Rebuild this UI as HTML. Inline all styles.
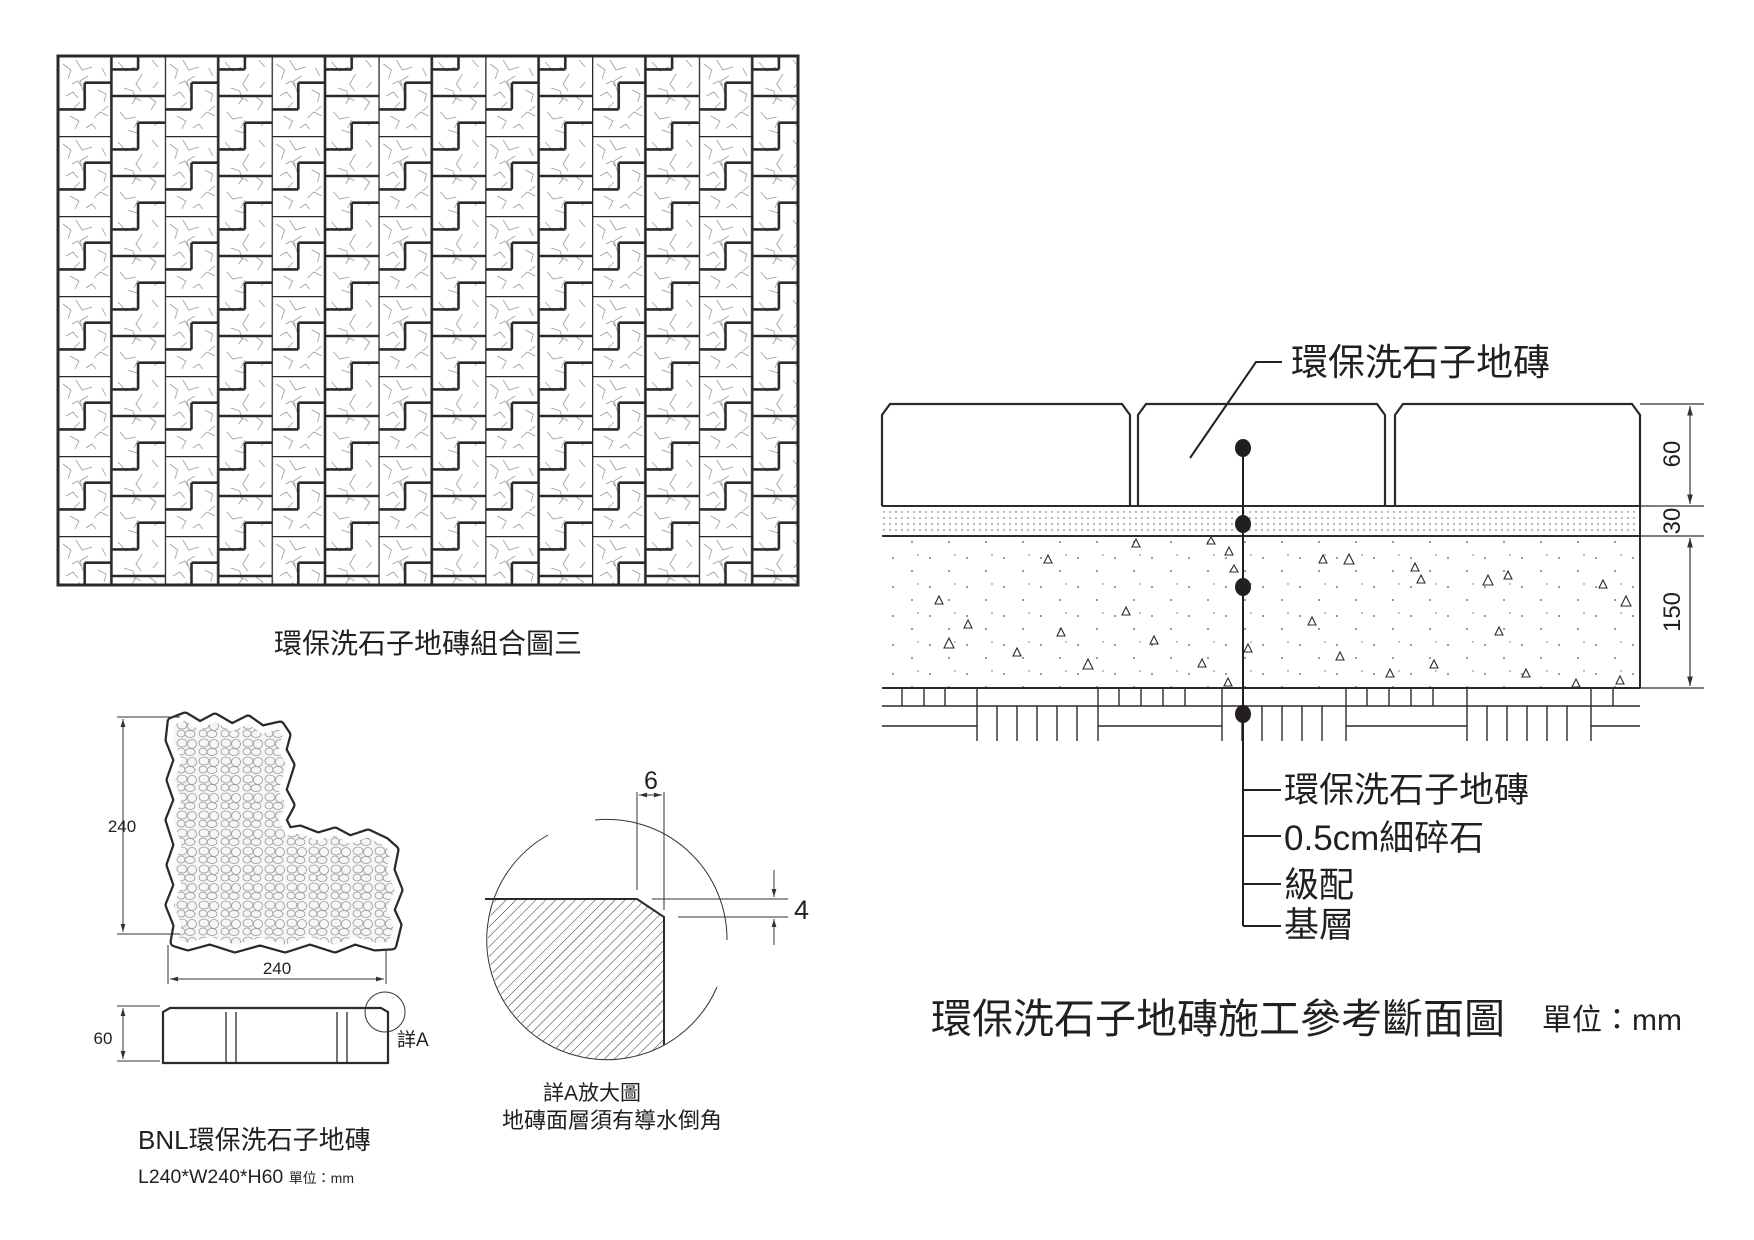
<!DOCTYPE html>
<html><head><meta charset="utf-8"><style>
html,body{margin:0;padding:0;background:#fff;}
svg{display:block;}
text{font-family:"Liberation Sans","Noto Sans CJK TC",sans-serif;fill:#231f20;}
</style></head><body>
<svg width="1754" height="1240" viewBox="0 0 1754 1240" xmlns="http://www.w3.org/2000/svg">
<defs>
<pattern id="pave" x="58" y="56" width="106.8" height="80" patternUnits="userSpaceOnUse">
  <rect width="106.8" height="80" fill="#fff"/>
  <g stroke="#999" stroke-width="0.8" fill="none">
    <path d="M5 8 l8 6 l-3 9 M18 4 l6 10 l10 -3 M30 20 l-8 5 l4 12 M40 34 l8 4 l-2 8 M8 40 l7 -4 l5 6 M12 60 l9 5 l-4 8 M36 62 l6 -6 l8 4 M44 12 l4 8 M60 6 l8 9 l9 -4 M84 18 l-6 10 l5 7 M94 4 l6 7 M66 32 l9 3 l2 9 M90 40 l8 6 l-5 8 M62 56 l6 7 l10 -2 M80 64 l-4 8 M96 70 l6 -5 M70 74 l9 3 M22 46 l-6 6"/>
    <path d="M14 28 l6 -3 l3 5 M50 50 l-6 5 M28 72 l6 -4 l4 5 M74 48 l4 -6 l5 3 M100 26 l-5 6"/>
  </g>
  <g stroke="#2a2a2a" stroke-width="2.6" fill="none">
    <path d="M0 0 V80 M0 0 H53.4 M26.7 26.7 H53.4 M26.7 26.7 V53.4 M0 53.4 H26.7"/>
    <path d="M53.4 0 V80 M53.4 40 H106.8 M80.1 66.7 H106.8 M80.1 66.7 V80 M80.1 0 V13.4 M53.4 13.4 H80.1"/>
  </g>
</pattern>
<pattern id="peb" width="22" height="18" patternUnits="userSpaceOnUse">
  <rect width="22" height="18" fill="#f6f6f6"/>
  <g stroke="#999" stroke-width="0.8" fill="none">
    <ellipse cx="6" cy="5" rx="5" ry="4"/><ellipse cx="16" cy="6" rx="4.5" ry="4.5"/>
    <ellipse cx="5" cy="13.5" rx="4" ry="3.5"/><ellipse cx="14" cy="14" rx="5" ry="3.5"/>
  </g>
</pattern>
<pattern id="sand" width="6" height="6" patternUnits="userSpaceOnUse">
  <circle cx="2" cy="2" r="0.7" fill="#555"/>
</pattern>
<pattern id="grav" width="37" height="29" patternUnits="userSpaceOnUse">
  <circle cx="5" cy="7" r="0.9" fill="#555"/><circle cx="24" cy="20" r="0.9" fill="#555"/><circle cx="30" cy="4" r="0.7" fill="#666"/>
</pattern>
<pattern id="hatch" width="7" height="7" patternUnits="userSpaceOnUse" patternTransform="rotate(45)">
  <line x1="0" y1="0" x2="0" y2="7" stroke="#333" stroke-width="1"/>
</pattern>
<clipPath id="circ"><circle cx="608" cy="940" r="120"/></clipPath>
<marker id="ar" viewBox="0 0 10 10" refX="10" refY="5" markerWidth="8" markerHeight="8" orient="auto-start-reverse"><path d="M0 2 L10 5 L0 8 Z" fill="#333"/></marker>
</defs>

<!-- top-left paving pattern -->
<rect x="58" y="56" width="740" height="529" fill="url(#pave)" stroke="#2a2a2a" stroke-width="3"/>
<text x="428" y="653" font-size="28" text-anchor="middle">環保洗石子地磚組合圖三</text>

<!-- L tile plan -->
<g>
<path id="Lp" d="M172,722 L185,717 200,726 215,718 232,728 248,720 262,730 280,726 286,735 282,750 290,765 282,790 290,805 282,820 288,832 300,830 318,837 335,832 350,840 368,834 385,842 394,850 390,870 398,890 390,910 397,925 392,945 375,946 355,940 335,948 310,940 285,948 260,941 235,948 210,940 188,946 175,942 178,925 170,905 178,885 171,865 178,845 170,820 178,800 171,780 178,760 170,740 Z" fill="url(#peb)"/>
<use href="#Lp" fill="none" stroke="#2a2a2a" stroke-width="11" stroke-linejoin="round"/>
<use href="#Lp" fill="none" stroke="#fff" stroke-width="6.5" stroke-linejoin="round"/>
</g>
<g stroke="#333" stroke-width="1" fill="none">
<line x1="117" y1="717" x2="180" y2="717"/><line x1="117" y1="934" x2="180" y2="934"/>
<line x1="123" y1="719" x2="123" y2="932" marker-start="url(#ar)" marker-end="url(#ar)"/>
<line x1="168" y1="945" x2="168" y2="984"/><line x1="386" y1="950" x2="386" y2="984"/>
<line x1="170" y1="979" x2="384" y2="979" marker-start="url(#ar)" marker-end="url(#ar)"/>
<line x1="117" y1="1006" x2="160" y2="1006"/><line x1="117" y1="1061" x2="160" y2="1061"/>
<line x1="123" y1="1008" x2="123" y2="1059" marker-start="url(#ar)" marker-end="url(#ar)"/>
</g>
<text x="122" y="832" font-size="17" text-anchor="middle">240</text>
<text x="277" y="974" font-size="17" text-anchor="middle">240</text>
<text x="103" y="1044" font-size="17" text-anchor="middle">60</text>
<path d="M163,1063 V1012 L170,1008 H381 L388,1012 V1063 Z" fill="#fff" stroke="#2a2a2a" stroke-width="2.2"/>
<g stroke="#2a2a2a" stroke-width="1.3"><line x1="226" y1="1012" x2="226" y2="1063"/><line x1="236" y1="1012" x2="236" y2="1063"/><line x1="337" y1="1012" x2="337" y2="1063"/><line x1="347" y1="1012" x2="347" y2="1063"/></g>
<circle cx="385" cy="1012" r="20" fill="none" stroke="#333" stroke-width="1"/>
<text x="397" y="1046" font-size="19">詳A</text>
<text x="138" y="1149" font-size="26">BNL環保洗石子地磚</text>
<text x="138" y="1183" font-size="19.5">L240*W240*H60 <tspan font-size="14">單位：mm</tspan></text>

<!-- detail A -->
<g clip-path="url(#circ)">
<path d="M480,899 H637 L664,917 V1070 H480 Z" fill="url(#hatch)"/>
</g>
<path d="M485,899 H637 L664,917 V1045" fill="none" stroke="#2a2a2a" stroke-width="2"/>
<g stroke="#333" stroke-width="1" fill="none">
<path d="M595,820 A120,120 0 0 1 727,940"/>
<path d="M717,987 A120,120 0 1 1 548,835"/>
<line x1="637" y1="792" x2="637" y2="890"/><line x1="664" y1="792" x2="664" y2="910"/>
<line x1="639" y1="795" x2="662" y2="795" marker-start="url(#ar)" marker-end="url(#ar)"/>
<line x1="652" y1="899" x2="788" y2="899"/><line x1="678" y1="917" x2="788" y2="917"/>
<line x1="774" y1="870" x2="774" y2="897" marker-end="url(#ar)"/>
<line x1="774" y1="945" x2="774" y2="919" marker-end="url(#ar)"/>
</g>
<text x="651" y="789" font-size="25" text-anchor="middle">6</text>
<text x="794" y="919" font-size="27">4</text>
<text x="592" y="1100" font-size="21" text-anchor="middle">詳A放大圖</text>
<text x="612" y="1128" font-size="22" text-anchor="middle">地磚面層須有導水倒角</text>

<!-- section -->
<rect x="882" y="506" width="758" height="30" fill="url(#sand)"/>
<rect x="882" y="536" width="758" height="152" fill="url(#grav)"/>
<g fill="#fff" stroke="#2a2a2a" stroke-width="2.2">
<path d="M882,506 V415 L890,404 H1122 L1130,415 V506"/>
<path d="M1138,506 V415 L1146,404 H1377 L1385,415 V506"/>
<path d="M1395,506 V415 L1403,404 H1632 L1640,415 V506"/>
</g>
<g stroke="#2a2a2a" stroke-width="2" fill="none">
<line x1="882" y1="506" x2="1640" y2="506"/>
<line x1="882" y1="536" x2="1640" y2="536"/>
<line x1="1640" y1="506" x2="1640" y2="688"/>
<line x1="882" y1="688" x2="1640" y2="688"/>
</g>
<g stroke="#2a2a2a" stroke-width="1.4" fill="none">
<path d="M882,706 H977 M882,726 H977 M1098,706 H1222 M1098,726 H1222 M1346,706 H1467 M1346,726 H1467 M1591,706 H1640 M1591,726 H1640"/>
<path d="M902,688 V706 M924,688 V706 M945,688 V706 M977,688 V741 M1098,688 V741 M1119,688 V706 M1141,688 V706 M1163,688 V706 M1185,688 V706 M1222,688 V741 M1346,688 V741 M1367,688 V706 M1389,688 V706 M1411,688 V706 M1433,688 V706 M1467,688 V741 M1591,688 V741 M1613,688 V706"/>
<path d="M997,706 V741 M1017,706 V741 M1037,706 V741 M1057,706 V741 M1077,706 V741 M977,706 H1098"/>
<path d="M1242,706 V741 M1262,706 V741 M1282,706 V741 M1302,706 V741 M1322,706 V741 M1222,706 H1346"/>
<path d="M1487,706 V741 M1507,706 V741 M1527,706 V741 M1547,706 V741 M1567,706 V741 M1467,706 H1591"/>
</g>
<g fill="none" stroke="#2a2a2a" stroke-width="1.1">
<polygon points="1136,539 1132,547 1140,547"/><polygon points="1048,555 1044,563 1052,563"/><polygon points="1211,537 1207,544 1215,544"/><polygon points="1229,547 1225,555 1233,555"/><polygon points="1234,565 1230,572 1238,572"/><polygon points="1323,555 1319,563 1327,563"/><polygon points="1349,554 1344,564 1354,564"/><polygon points="1415,563 1411,571 1419,571"/><polygon points="1421,575 1417,583 1425,583"/><polygon points="1488,575 1483,585 1493,585"/><polygon points="1508,571 1504,579 1512,579"/><polygon points="1603,580 1599,588 1607,588"/><polygon points="1626,596 1621,606 1631,606"/><polygon points="939,596 935,604 943,604"/><polygon points="968,620 964,628 972,628"/><polygon points="949,638 944,648 954,648"/><polygon points="1061,628 1057,636 1065,636"/><polygon points="1126,607 1122,615 1130,615"/><polygon points="1154,636 1150,644 1158,644"/><polygon points="1017,648 1013,656 1021,656"/><polygon points="1088,659 1083,669 1093,669"/><polygon points="1202,659 1198,667 1206,667"/><polygon points="1248,644 1244,652 1252,652"/><polygon points="1312,617 1308,625 1316,625"/><polygon points="1340,652 1336,660 1344,660"/><polygon points="1390,669 1386,677 1394,677"/><polygon points="1434,660 1430,668 1438,668"/><polygon points="1499,627 1495,635 1503,635"/><polygon points="1526,669 1522,677 1530,677"/><polygon points="1576,679 1572,687 1580,687"/><polygon points="1620,676 1616,684 1624,684"/><polygon points="1228,678 1224,686 1232,686"/>
</g>
<!-- leaders -->
<g stroke="#231f20" stroke-width="2" fill="none">
<path d="M1282,362 H1256 L1190,458"/>
<path d="M1243,448 V926"/>
<path d="M1243,790 H1281 M1243,836 H1281 M1243,884 H1281 M1243,926 H1281"/>
</g>
<g fill="#231f20"><ellipse cx="1243" cy="448" rx="8" ry="9"/><ellipse cx="1243" cy="524" rx="8" ry="9"/><ellipse cx="1243" cy="587" rx="8" ry="9"/><ellipse cx="1243" cy="714" rx="8" ry="9"/></g>
<text x="1291" y="375" font-size="37">環保洗石子地磚</text>
<text x="1284" y="802" font-size="35">環保洗石子地磚</text>
<text x="1284" y="850" font-size="35">0.5cm細碎石</text>
<text x="1284" y="897" font-size="35">級配</text>
<text x="1284" y="937" font-size="35">基層</text>
<!-- dims right -->
<g stroke="#333" stroke-width="1.2" fill="none">
<line x1="1640" y1="404" x2="1704" y2="404"/><line x1="1640" y1="506" x2="1704" y2="506"/><line x1="1640" y1="536" x2="1704" y2="536"/><line x1="1640" y1="688" x2="1704" y2="688"/>
<line x1="1690" y1="406" x2="1690" y2="504" marker-start="url(#ar)" marker-end="url(#ar)"/>
<line x1="1690" y1="538" x2="1690" y2="686" marker-start="url(#ar)" marker-end="url(#ar)"/>
</g>
<text transform="translate(1680,454) rotate(-90)" font-size="24" text-anchor="middle">60</text>
<text transform="translate(1680,521) rotate(-90)" font-size="24" text-anchor="middle">30</text>
<text transform="translate(1680,612) rotate(-90)" font-size="24" text-anchor="middle">150</text>
<text x="931" y="1033" font-size="41">環保洗石子地磚施工參考斷面圖</text>
<text x="1542" y="1030" font-size="30">單位：mm</text>
</svg>
</body></html>
